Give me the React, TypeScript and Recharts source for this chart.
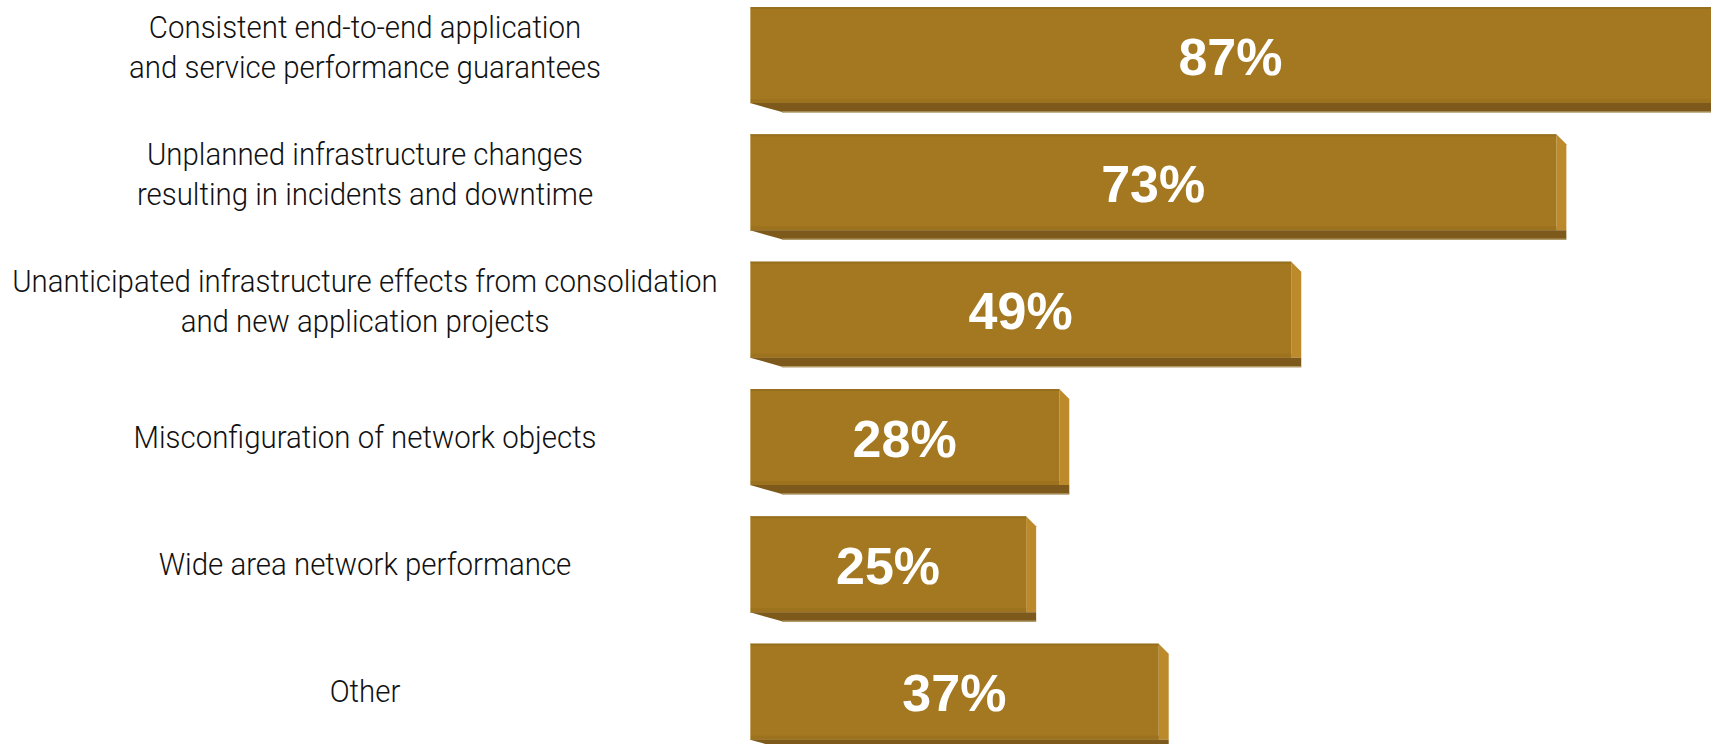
import { Bar, BarChart, LabelList, XAxis, YAxis } from "recharts";

const categories = [
  "Consistent end-to-end application\nand service performance guarantees",
  "Unplanned infrastructure changes\nresulting in incidents and downtime",
  "Unanticipated infrastructure effects from consolidation\nand new application projects",
  "Misconfiguration of network objects",
  "Wide area network performance",
  "Other",
];
const values = [87, 73, 49, 28, 25, 37];

const data = categories.map((name, i) => ({ name, value: values[i] }));

const FRONT = "#a47820";
const BOTTOM = "#7d5a1b";
const SIDE = "#bc8a2b";
const SIDE_W = 10;
const BOTTOM_H = 9;
const LABEL_X = 365;
const SQUEEZE = 0.92;

function Bar3D(props: any) {
  const { x, y, width, height } = props;
  const fb = y + height - BOTTOM_H;
  const fr = x + width;
  return (
    <g>
      <polygon
        points={`${fr},${y} ${fr + SIDE_W},${y + 10} ${fr + SIDE_W},${fb} ${fr},${fb}`}
        fill={SIDE}
      />
      <rect x={x} y={y} width={width} height={height - BOTTOM_H} fill={FRONT} />
      <rect x={x} y={y} width={width} height={2} fill="#97701f" />
      <rect x={x} y={fb - 4} width={width} height={4} fill="#9c721f" />
      <line x1={x} y1={y} x2={x} y2={fb} stroke="#e6d6ad" strokeWidth={1} />
      <polygon
        points={`${x},${fb} ${fr + SIDE_W},${fb} ${fr + SIDE_W},${fb + BOTTOM_H} ${x + 32},${fb + BOTTOM_H}`}
        fill={BOTTOM}
      />
      <line
        x1={x + 32}
        y1={fb + BOTTOM_H}
        x2={fr + SIDE_W}
        y2={fb + BOTTOM_H}
        stroke="#b09a68"
        strokeWidth={1.5}
      />
    </g>
  );
}

function CategoryTick(props: any) {
  const { y, payload } = props;
  const lines = String(payload.value).split("\n");
  const baselines = lines.length === 1 ? [y + 6] : [y - 22, y + 18];
  return (
    <g transform={`translate(${LABEL_X},0) scale(${SQUEEZE},1)`}>
      {lines.map((line, i) => (
        <text
          key={i}
          x={0}
          y={baselines[i]}
          textAnchor="middle"
          fontFamily="Roboto, 'Noto Sans', sans-serif"
          fontWeight={300}
          fontSize={32}
          fill="#111"
        >
          {line}
        </text>
      ))}
    </g>
  );
}

function ValueLabel(props: any) {
  const { x, y, width, height, value } = props;
  return (
    <text
      x={x + width / 2}
      y={y + height / 2 + 15}
      textAnchor="middle"
      fontFamily="'Liberation Sans', Arial, sans-serif"
      fontWeight="bold"
      fontSize={52}
      fill="#fff"
    >
      {value}%
    </text>
  );
}

export default function App() {
  return (
    <div
      style={{
        position: "absolute",
        left: 0,
        top: 0,
        width: 1711,
        height: 744,
        overflow: "hidden",
        background: "#fff",
      }}
    >
      <BarChart
        width={1711}
        height={764}
        data={data}
        layout="vertical"
        margin={{ top: -4, right: 0, bottom: 4, left: 0 }}
        barSize={105}
      >
        <XAxis type="number" domain={[0, 87]} hide allowDataOverflow />
        <YAxis
          type="category"
          dataKey="name"
          width={750}
          axisLine={false}
          tickLine={false}
          tick={<CategoryTick />}
          interval={0}
        />
        <Bar dataKey="value" shape={<Bar3D />} isAnimationActive={false}>
          <LabelList dataKey="value" content={<ValueLabel />} />
        </Bar>
      </BarChart>
    </div>
  );
}
